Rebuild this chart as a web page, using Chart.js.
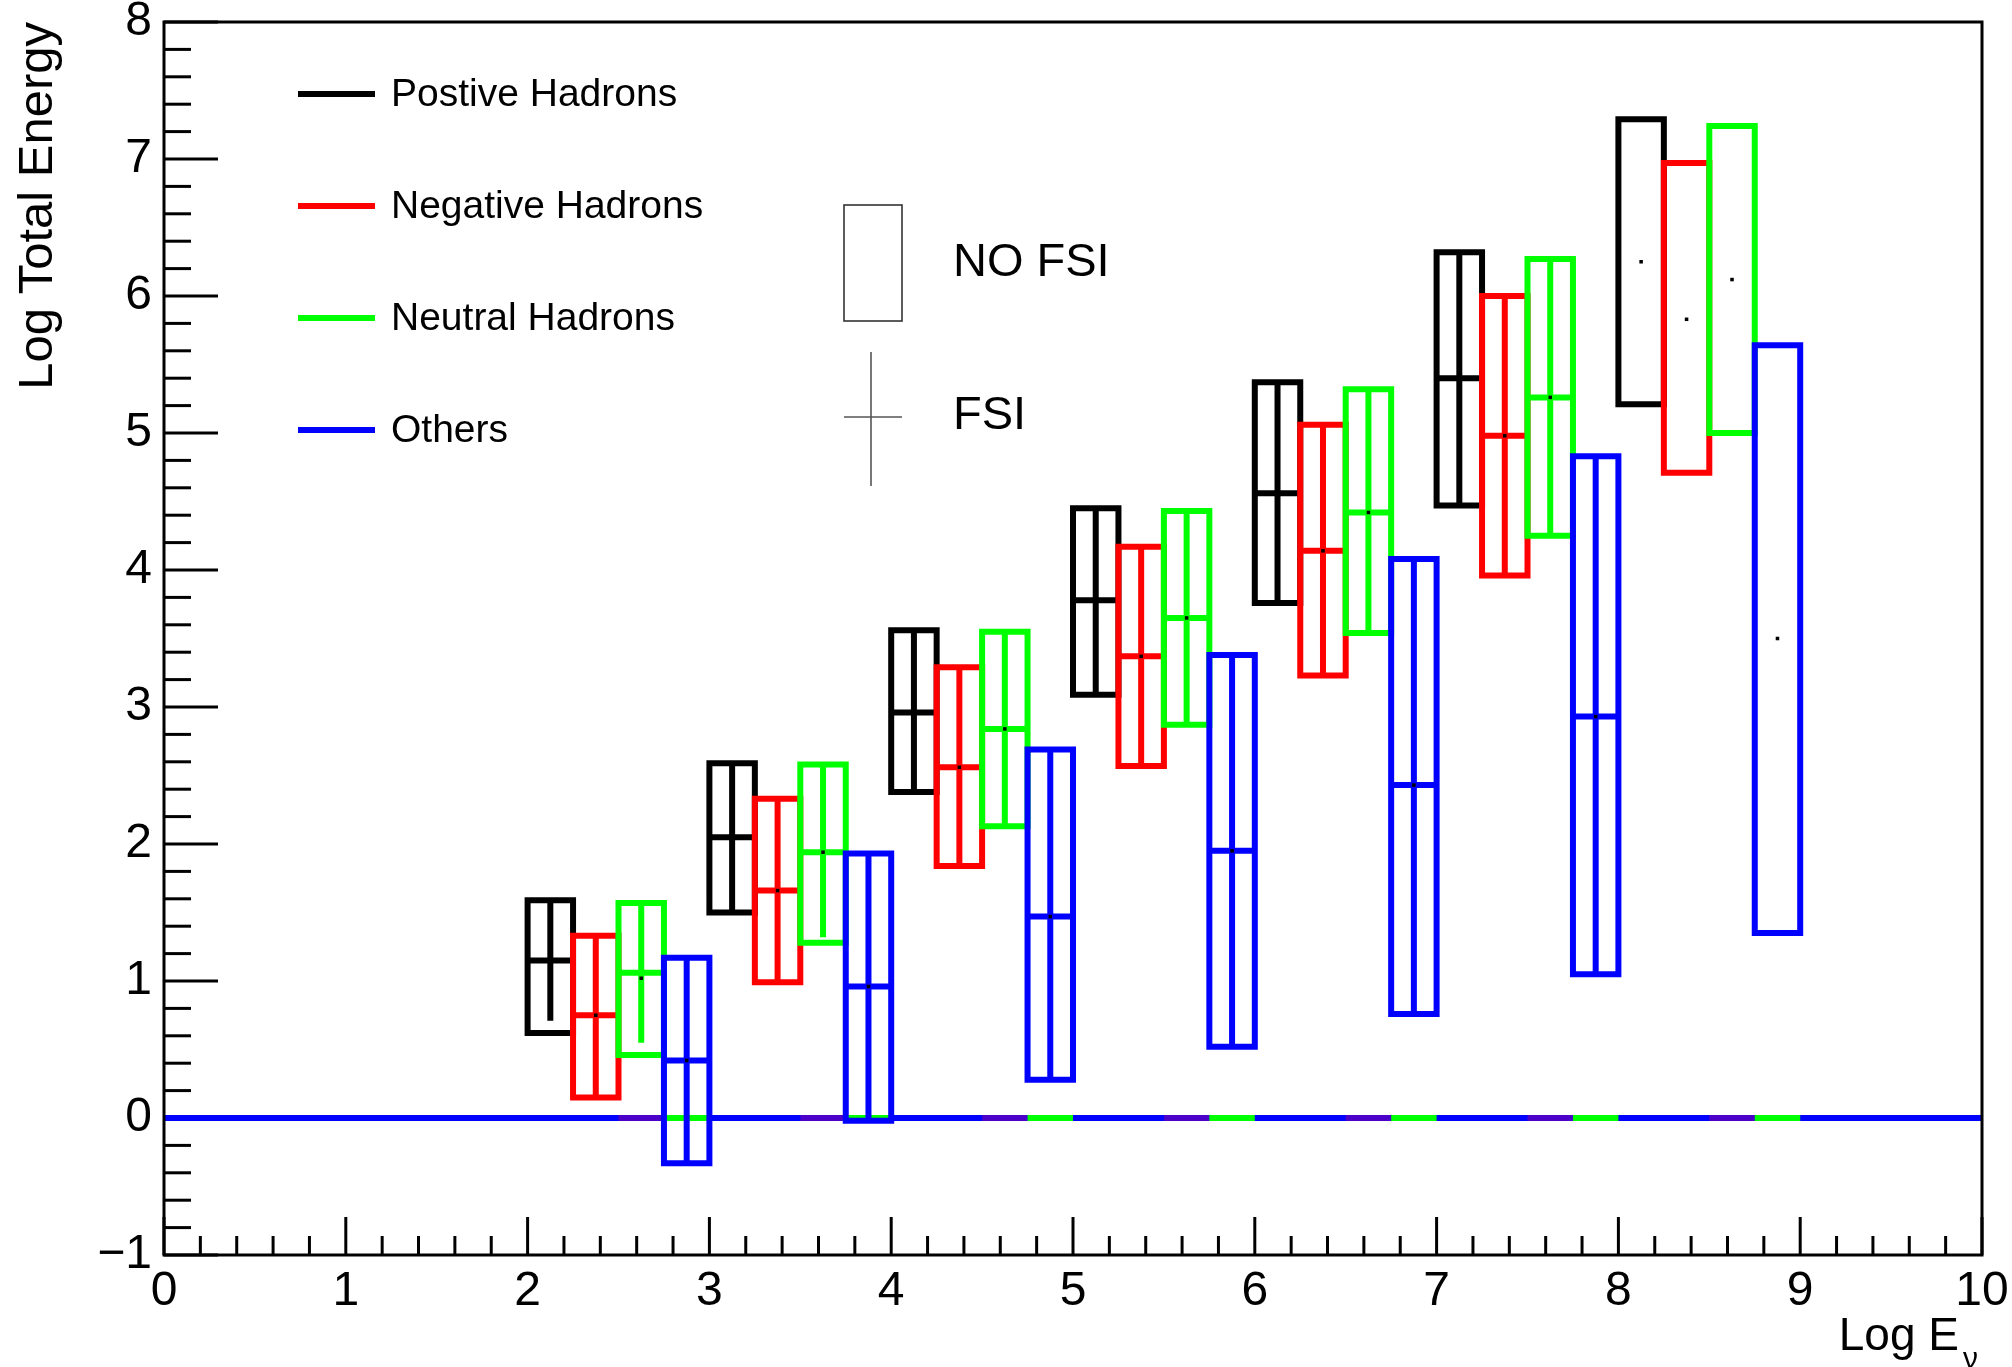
<!DOCTYPE html>
<html>
<head>
<meta charset="utf-8">
<script src="https://cdn.jsdelivr.net/npm/chart.js@4.4.1/dist/chart.umd.min.js"></script>
<style>
  html, body { margin: 0; padding: 0; background: #ffffff; }
  canvas { display: block; }
</style>
</head>
<body>
<canvas id="c" width="2012" height="1367" style="width:2012px;height:1367px"></canvas>
<script>
// ---------------- DATA ----------------
const binStarts = [2, 3, 4, 5, 6, 7, 8];            // Log E_nu bins
const seriesNames  = ['Postive Hadrons', 'Negative Hadrons', 'Neutral Hadrons', 'Others'];
const seriesColors = ['#000000', '#ff0000', '#00ff00', '#0000ff'];

// Positive hadrons (black)
const posNoFsiLow   = [0.62, 1.50, 2.38, 3.09, 3.76, 4.47, 5.21];
const posNoFsiHigh  = [1.59, 2.59, 3.56, 4.45, 5.37, 6.32, 7.29];
const posNoFsiMean  = [1.10, 2.05, 2.96, 3.78, 4.56, 5.40, 6.25];
const posFsiLow     = [0.71, 1.50, 2.38, 3.09, 3.76, 4.47, null];
const posFsiHigh    = [1.59, 2.59, 3.56, 4.45, 5.37, 6.32, null];
const posFsiMedian  = [1.15, 2.05, 2.96, 3.78, 4.56, 5.40, null];

// Negative hadrons (red)
const negNoFsiLow   = [0.15, 0.99, 1.84, 2.57, 3.23, 3.96, 4.71];
const negNoFsiHigh  = [1.33, 2.33, 3.29, 4.17, 5.06, 6.00, 6.97];
const negNoFsiMean  = [0.75, 1.66, 2.56, 3.37, 4.14, 4.98, 5.83];
const negFsiLow     = [0.15, 0.99, 1.84, 2.57, 3.23, 3.96, null];
const negFsiHigh    = [1.33, 2.33, 3.29, 4.17, 5.06, 6.00, null];
const negFsiMedian  = [0.75, 1.66, 2.56, 3.37, 4.14, 4.98, null];

// Neutral hadrons (green)
const neuNoFsiLow   = [0.46, 1.28, 2.13, 2.87, 3.54, 4.25, 5.00];
const neuNoFsiHigh  = [1.57, 2.58, 3.55, 4.43, 5.32, 6.27, 7.24];
const neuNoFsiMean  = [1.02, 1.94, 2.84, 3.65, 4.42, 5.26, 6.12];
const neuFsiLow     = [0.55, 1.32, 2.13, 2.87, 3.54, 4.25, null];
const neuFsiHigh    = [1.57, 2.58, 3.55, 4.43, 5.32, 6.27, null];
const neuFsiMedian  = [1.06, 1.94, 2.84, 3.65, 4.42, 5.26, null];

// Others (blue)
const othNoFsiLow   = [-0.33, -0.02, 0.28, 0.52, 0.76, 1.05, 1.35];
const othNoFsiHigh  = [1.17, 1.93, 2.69, 3.38, 4.08, 4.83, 5.64];
const othNoFsiMean  = [0.42, 0.96, 1.47, 1.95, 2.43, 2.93, 3.50];
const othFsiLow     = [-0.33, -0.02, 0.28, 0.52, 0.76, 1.05, null];
const othFsiHigh    = [1.17, 1.93, 2.69, 3.38, 4.08, 4.83, null];
const othFsiMedian  = [0.42, 0.96, 1.47, 1.95, 2.43, 2.93, null];

// Empty-bin (zero) candles along y = 0
const zeroLineRange   = [0, 10];
const zeroPurpleFrom  = [2.5, 3.5, 4.5, 5.5, 6.5, 7.5, 8.5];
const zeroGreenFrom   = [2.75, 3.75, 4.75, 5.75, 6.75, 7.75, 8.75];

// Axis ticks
const xTicks = [0, 1, 2, 3, 4, 5, 6, 7, 8, 9, 10];
const yTicks = [-1, 0, 1, 2, 3, 4, 5, 6, 7, 8];
const xTitle = 'Log E';
const xTitleSub = '\u03bd';
const yTitle = 'Log Total Energy';
const legendFsiLabels = ['NO FSI', 'FSI'];

// ---------------- BUILD ----------------
const SUB_W = 0.25;   // each series occupies a quarter of the bin
const LW = 6;
const FONT = "'Liberation Sans', Arial, Helvetica, sans-serif";
Chart.defaults.font.family = FONT;

const seriesData = [
  { lo: posNoFsiLow, hi: posNoFsiHigh, mean: posNoFsiMean, fLo: posFsiLow, fHi: posFsiHigh, fMed: posFsiMedian },
  { lo: negNoFsiLow, hi: negNoFsiHigh, mean: negNoFsiMean, fLo: negFsiLow, fHi: negFsiHigh, fMed: negFsiMedian },
  { lo: neuNoFsiLow, hi: neuNoFsiHigh, mean: neuNoFsiMean, fLo: neuFsiLow, fHi: neuFsiHigh, fMed: neuFsiMedian },
  { lo: othNoFsiLow, hi: othNoFsiHigh, mean: othNoFsiMean, fLo: othFsiLow, fHi: othFsiHigh, fMed: othFsiMedian }
];

function boxPoints(s, k) {
  const pts = [];
  binStarts.forEach((b, i) => {
    if (s.lo[i] == null) return;
    const x0 = b + k * SUB_W, x1 = x0 + SUB_W;
    pts.push({x: x0, y: s.lo[i]}, {x: x1, y: s.lo[i]}, {x: x1, y: s.hi[i]},
             {x: x0, y: s.hi[i]}, {x: x0, y: s.lo[i]}, {x: x0, y: null});
  });
  return pts;
}
function fsiPoints(s, k) {
  const pts = [];
  binStarts.forEach((b, i) => {
    if (s.fLo[i] == null) return;
    const x0 = b + k * SUB_W, x1 = x0 + SUB_W, xc = x0 + SUB_W / 2;
    pts.push({x: xc, y: s.fLo[i]}, {x: xc, y: s.fHi[i]}, {x: xc, y: null});
    pts.push({x: x0, y: s.fMed[i]}, {x: x1, y: s.fMed[i]}, {x: x1, y: null});
  });
  return pts;
}
function meanPoints(s, k) {
  return binStarts.map((b, i) => ({x: b + k * SUB_W + SUB_W / 2, y: s.mean[i]}));
}
function segPoints(starts) {
  const pts = [];
  starts.forEach(a => { pts.push({x: a, y: 0}, {x: a + SUB_W, y: 0}, {x: a + SUB_W, y: null}); });
  return pts;
}

const lineBase = {
  type: 'line', showLine: true, fill: false, tension: 0, pointRadius: 0, pointHoverRadius: 0,
  borderWidth: LW, borderJoinStyle: 'miter', borderCapStyle: 'square', spanGaps: false
};

const datasets = [];
datasets.push(Object.assign({}, lineBase, { label: 'zero', data: [{x: zeroLineRange[0], y: 0}, {x: zeroLineRange[1], y: 0}], borderColor: '#0000ff', borderCapStyle: 'butt' }));
datasets.push(Object.assign({}, lineBase, { label: 'zeroP', data: segPoints(zeroPurpleFrom), borderColor: '#4a00c8', borderCapStyle: 'butt' }));
datasets.push(Object.assign({}, lineBase, { label: 'zeroG', data: segPoints(zeroGreenFrom), borderColor: '#00ff00', borderCapStyle: 'butt' }));
seriesData.forEach((s, k) => {
  datasets.push(Object.assign({}, lineBase, { label: seriesNames[k] + ' NO FSI', data: boxPoints(s, k), borderColor: seriesColors[k] }));
  datasets.push(Object.assign({}, lineBase, { label: seriesNames[k] + ' FSI', data: fsiPoints(s, k), borderColor: seriesColors[k], borderCapStyle: 'butt' }));
});
seriesData.forEach((s, k) => {
  datasets.push({ type: 'scatter', label: seriesNames[k] + ' mean', data: meanPoints(s, k), showLine: false,
    pointStyle: 'rect', pointRadius: 2.5, pointBackgroundColor: '#000', pointBorderWidth: 0, pointHoverRadius: 0 });
});
// later datasets drawn on top
datasets.forEach((d, i) => { d.order = datasets.length - i; });

// ---------------- PLUGINS ----------------
const rootAxes = {
  id: 'rootAxes',
  beforeDatasetsDraw(chart) {
    const {ctx, chartArea: a, scales: {x, y}} = chart;
    ctx.save();
    ctx.strokeStyle = '#000';
    ctx.lineWidth = 3;
    ctx.lineCap = 'butt';
    const seg = (x0, y0, x1, y1) => { ctx.beginPath(); ctx.moveTo(x0, y0); ctx.lineTo(x1, y1); ctx.stroke(); };
    // y axis ticks (inside)
    yTicks.forEach((v, i) => {
      const py = y.getPixelForValue(v);
      seg(a.left, py, a.left + 54, py);
      if (i < yTicks.length - 1) {
        const step = (yTicks[i + 1] - v) / 5;
        for (let m = 1; m < 5; m++) { const pm = y.getPixelForValue(v + m * step); seg(a.left, pm, a.left + 27, pm); }
      }
    });
    // x axis ticks (inside)
    xTicks.forEach((v, i) => {
      const px = x.getPixelForValue(v);
      seg(px, a.bottom, px, a.bottom - 38);
      if (i < xTicks.length - 1) {
        const step = (xTicks[i + 1] - v) / 5;
        for (let m = 1; m < 5; m++) { const pm = x.getPixelForValue(v + m * step); seg(pm, a.bottom, pm, a.bottom - 19); }
      }
    });
    ctx.restore();
  },
  afterDatasetsDraw(chart) {
    const {ctx, chartArea: a} = chart;
    ctx.save();
    ctx.strokeStyle = '#000';
    ctx.lineWidth = 3;
    ctx.strokeRect(a.left, a.top, a.right - a.left, a.bottom - a.top);
    ctx.restore();
  },
  afterDraw(chart) {
    const {ctx, chartArea: a} = chart;
    ctx.save();
    ctx.fillStyle = '#000';
    // Y title (rotated)
    ctx.font = '49px ' + FONT;
    ctx.translate(52, a.top);
    ctx.rotate(-Math.PI / 2);
    ctx.textAlign = 'right';
    ctx.textBaseline = 'alphabetic';
    ctx.fillText(yTitle, 0, 0);
    ctx.restore();
    // X title with subscript
    ctx.save();
    ctx.fillStyle = '#000';
    ctx.font = '30px ' + FONT;
    const subW = ctx.measureText(xTitleSub).width;
    ctx.textBaseline = 'alphabetic';
    ctx.textAlign = 'left';
    const subX = a.right - 4 - subW;
    ctx.fillText(xTitleSub, subX, 1368);
    ctx.font = '46px ' + FONT;
    ctx.textAlign = 'right';
    ctx.fillText(xTitle, subX - 4, 1350);
    ctx.restore();

    // Legend 1: series
    ctx.save();
    ctx.font = '39px ' + FONT;
    ctx.textBaseline = 'middle';
    ctx.textAlign = 'left';
    seriesNames.forEach((n, k) => {
      const ly = 94 + k * 112;
      ctx.strokeStyle = seriesColors[k];
      ctx.lineWidth = LW;
      ctx.beginPath(); ctx.moveTo(298, ly); ctx.lineTo(375, ly); ctx.stroke();
      ctx.fillStyle = '#000';
      ctx.fillText(n, 391, ly + 1);
    });
    ctx.restore();

    // Legend 2: NO FSI / FSI
    ctx.save();
    ctx.strokeStyle = '#333';
    ctx.lineWidth = 1.6;
    ctx.strokeRect(844, 205, 58, 116);
    ctx.strokeStyle = '#555';
    ctx.beginPath(); ctx.moveTo(871, 352); ctx.lineTo(871, 486); ctx.stroke();
    ctx.beginPath(); ctx.moveTo(844, 417); ctx.lineTo(902, 417); ctx.stroke();
    ctx.fillStyle = '#000';
    ctx.font = '47px ' + FONT;
    ctx.textBaseline = 'middle';
    ctx.textAlign = 'left';
    ctx.fillText(legendFsiLabels[0], 953, 263);
    ctx.fillText(legendFsiLabels[1], 953, 416);
    ctx.restore();
  }
};

new Chart(document.getElementById('c'), {
  type: 'line',
  data: { datasets },
  options: {
    responsive: false,
    animation: false,
    devicePixelRatio: 1,
    layout: { padding: { top: 22, right: 30, left: 0, bottom: 0 } },
    plugins: { legend: { display: false }, tooltip: { enabled: false }, title: { display: false } },
    events: [],
    scales: {
      x: {
        type: 'linear', min: 0, max: 10,
        afterBuildTicks: s => { s.ticks = xTicks.map(v => ({value: v})); },
        ticks: { color: '#000', font: { size: 48 }, padding: 8, maxRotation: 0, autoSkip: false },
        grid: { display: false, drawTicks: false },
        border: { display: false },
        afterFit: s => { s.height = 112; s.paddingLeft = 0; s.paddingRight = 0; }
      },
      y: {
        type: 'linear', min: -1, max: 8,
        afterBuildTicks: s => { s.ticks = yTicks.map(v => ({value: v})); },
        ticks: { color: '#000', font: { size: 48 }, padding: 12, autoSkip: false,
                 callback: v => (v < 0 ? '\u2212' + Math.abs(v) : String(v)) },
        grid: { display: false, drawTicks: false },
        border: { display: false },
        afterFit: s => { s.width = 164; s.paddingTop = 0; s.paddingBottom = 0; }
      }
    }
  },
  plugins: [rootAxes]
});
</script>
</body>
</html>
